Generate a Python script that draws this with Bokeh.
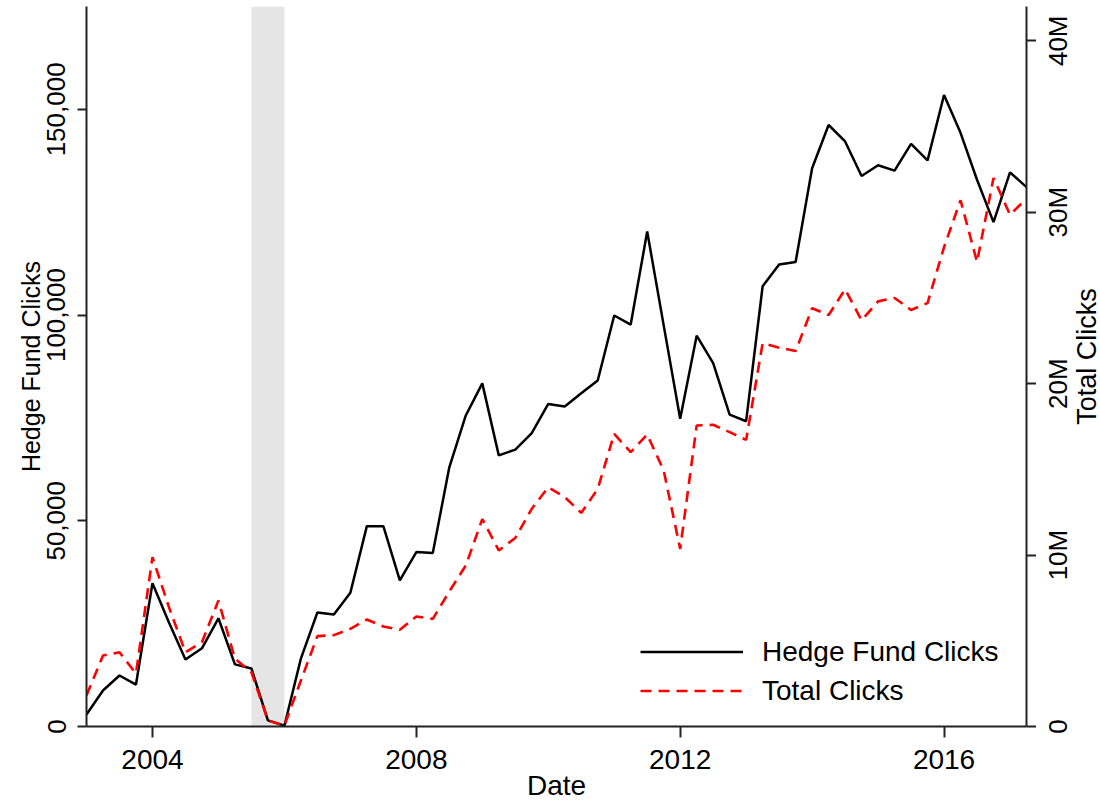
import math
from bokeh.plotting import figure
from bokeh.layouts import row
from bokeh.models import (Range1d, LinearAxis, FixedTicker, NumeralTickFormatter,
                          BoxAnnotation, Legend, LegendItem, ColumnDataSource)
from bokeh.core.properties import value
from bokeh.embed import file_html
from bokeh.resources import INLINE

# Quarterly dates 2003Q1 .. 2017Q2
years = [2003, 2004, 2005, 2006, 2007, 2008, 2009, 2010, 2011, 2012, 2013, 2014, 2015, 2016, 2017]
quarter_offsets = [0.0, 0.25, 0.5, 0.75]
dates = [y + q for y in years for q in quarter_offsets][:58]

hedge_fund_clicks = [
    2900, 8750, 12400, 10200,
    34800, 25300, 16300, 19000,
    26300, 15100, 14100, 1500,
    200, 16500, 27700, 27200,
    32500, 48700, 48700, 35500,
    42400, 42200, 63000, 75600,
    83400, 65900, 67300, 71300,
    78400, 77800, 81000, 84100,
    99900, 97700, 120300, 97500,
    74800, 95000, 88300, 75800,
    74200, 107000, 112300, 112900,
    135700, 146200, 142200, 133800,
    136400, 135100, 141600, 137600,
    153500, 144300, 132900, 122600,
    134700, 131100,
]

total_clicks_m = [
    1.81, 4.14, 4.33, 3.09,
    9.88, 6.96, 4.33, 4.92,
    7.35, 3.95, 3.17, 0.35,
    0.05, 2.68, 5.27, 5.33,
    5.70, 6.24, 5.83, 5.64,
    6.42, 6.28, 7.88, 9.39,
    12.1, 10.27, 11.0, 12.7,
    13.96, 13.38, 12.46, 13.86,
    17.07, 16.0, 17.03, 14.93,
    10.36, 17.56, 17.6, 17.17,
    16.72, 22.36, 22.1, 21.9,
    24.4, 24.0, 25.5, 23.7,
    24.8, 25.0, 24.3, 24.7,
    27.96, 30.7, 27.1, 32.0,
    29.85, 30.8,
]
total_clicks = [v * 1e6 for v in total_clicks_m]

shade_start, shade_end = 2005.5, 2006.0
x_ticks = [2004, 2008, 2012, 2016]
left_ticks = [0, 50000, 100000, 150000]
right_ticks = [0, 10e6, 20e6, 30e6, 40e6]
right_tick_labels = ["0", "10M", "20M", "30M", "40M"]

FONT = "Liberation Sans"

W, H = 1100, 806
FRAME_LEFT, FRAME_RIGHT, FRAME_TOP, FRAME_BOTTOM = 86, 1026, 6, 726
TICK_OUT = 10
X0, X1 = 2003.0, 2017.25
LEFT_MAX = 175000
RIGHT_MAX = 42e6

main_w = FRAME_RIGHT + TICK_OUT

p = figure(width=main_w, height=H, output_backend="svg", toolbar_location=None,
           x_range=Range1d(X0, X1), y_range=Range1d(0, LEFT_MAX),
           min_border_left=FRAME_LEFT, min_border_right=TICK_OUT,
           min_border_top=FRAME_TOP, min_border_bottom=H - FRAME_BOTTOM)
p.extra_y_ranges = {"right": Range1d(0, RIGHT_MAX)}
p.outline_line_color = None
p.grid.visible = False
p.background_fill_color = "white"
p.border_fill_color = "white"
p.frame_align = False

p.add_layout(BoxAnnotation(left=shade_start, right=shade_end, fill_color="#e5e5e5",
                           fill_alpha=1.0, line_color=None, level="underlay"))

r1 = p.line(dates, hedge_fund_clicks, line_color="black", line_width=2.5)
r2 = p.line(dates, total_clicks, y_range_name="right", line_color="#ff0000",
            line_width=2.6, line_dash="11 7")

raxis = LinearAxis(y_range_name="right")
p.add_layout(raxis, "right")

def style_axis(ax, fs):
    ax.axis_line_color = "#222222"
    ax.axis_line_width = 2
    ax.major_tick_line_color = "#222222"
    ax.major_tick_line_width = 2
    ax.major_tick_in = 0
    ax.major_tick_out = TICK_OUT
    ax.minor_tick_line_color = None
    ax.major_label_text_font = FONT
    ax.major_label_text_font_size = fs
    ax.major_label_text_color = "black"
    ax.axis_label_text_font = FONT
    ax.axis_label_text_font_size = fs
    ax.axis_label_text_font_style = "normal"
    ax.axis_label_text_color = "black"

xa = p.xaxis[0]
style_axis(xa, "28px")
xa.ticker = FixedTicker(ticks=x_ticks)
xa.axis_label = "Date"
xa.major_tick_out = 11
xa.major_label_standoff = 12
xa.axis_label_standoff = -2

la = p.yaxis[0]
style_axis(la, "26px")
la.ticker = FixedTicker(ticks=left_ticks)
la.formatter = NumeralTickFormatter(format="0,0")
la.axis_label = "Hedge Fund Clicks"
la.axis_label_text_font_size = "25px"
la.major_tick_out = 9
la.major_label_orientation = "vertical"
la.major_label_standoff = 12
la.axis_label_standoff = 0

# Right axis: tick marks here; its labels (reading bottom-to-top) in a side strip
style_axis(raxis, "26px")
raxis.ticker = FixedTicker(ticks=right_ticks)
raxis.major_label_overrides = {t: "" for t in right_ticks}
raxis.major_label_standoff = 0

legend = Legend(items=[LegendItem(label="Hedge Fund Clicks", renderers=[r1]),
                       LegendItem(label="Total Clicks", renderers=[r2])],
                location=(554, 16), border_line_color=None, background_fill_alpha=0,
                glyph_width=103, glyph_height=39, label_height=39, spacing=0,
                label_standoff=19, padding=0, margin=0,
                label_text_font=FONT, label_text_font_size="28px", label_text_color="black")
p.add_layout(legend, "center")

# Side strip for the right axis labels; its frame spans the whole strip,
# with the vertical scale matching the main plot's right axis.
side_w = W - main_w
per_px = RIGHT_MAX / (FRAME_BOTTOM - FRAME_TOP)
p2 = figure(width=side_w, height=H, output_backend="svg", toolbar_location=None,
            x_range=Range1d(main_w, W),
            y_range=Range1d(-(H - FRAME_BOTTOM) * per_px, FRAME_BOTTOM * per_px),
            x_axis_type=None, y_axis_type=None,
            min_border_left=0, min_border_right=0, min_border_top=0, min_border_bottom=0)
p2.outline_line_color = None
p2.grid.visible = False
p2.background_fill_color = "white"
p2.border_fill_color = "white"
p2.frame_align = False

tick_src = ColumnDataSource(dict(x=[1057] * len(right_ticks), y=right_ticks,
                                 text=right_tick_labels))
p2.text(x="x", y="y", text="text", source=tick_src, angle=math.pi / 2,
        text_align="center", text_baseline="middle",
        text_font=value(FONT), text_font_size="26px", text_color="black")

title_y = (FRAME_BOTTOM - 356) * per_px
p2.text(x=[1086], y=[title_y], text=["Total Clicks"], angle=math.pi / 2,
        text_align="center", text_baseline="middle",
        text_font=value(FONT), text_font_size="27px", text_color="black")

layout = row(p, p2, spacing=0)
open("out.html", "w").write(file_html(layout, INLINE))
